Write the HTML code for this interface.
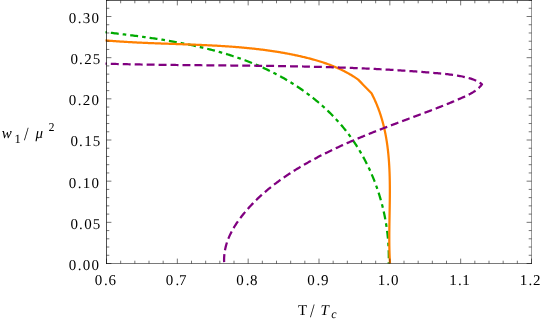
<!DOCTYPE html>
<html><head><meta charset="utf-8"><title>plot</title>
<style>
html,body{margin:0;padding:0;background:#fff;}
body{width:545px;height:321px;overflow:hidden;font-family:"Liberation Serif",serif;}
svg{display:block;will-change:transform;}
text{font-family:"Liberation Serif",serif;fill:#000;text-rendering:geometricPrecision;}
.tl text{font-size:15px;}
</style></head><body>
<svg width="545" height="321" viewBox="0 0 545 321">
<rect width="545" height="321" fill="#fff"/>
<g fill="none" stroke-width="2.25" stroke-linejoin="round">
<path d="M105.50 32.20L106.83 32.36L108.16 32.51L109.49 32.67L110.83 32.82L112.16 32.98L113.50 33.14L114.84 33.30L116.17 33.46L117.51 33.62L118.86 33.78L120.20 33.94L121.54 34.10L122.89 34.27L124.23 34.43L125.58 34.60L126.93 34.77L128.28 34.94L129.62 35.11L130.97 35.28L132.33 35.45L133.68 35.63L135.03 35.80L136.38 35.98L137.74 36.16L139.09 36.34L140.45 36.52L141.80 36.71L143.16 36.89L144.52 37.08L145.87 37.27L147.23 37.46L148.59 37.65L149.95 37.85L151.31 38.05L152.66 38.25L154.02 38.45L155.38 38.66L156.74 38.86L158.10 39.07L159.46 39.28L160.82 39.50L162.18 39.72L163.54 39.93L164.90 40.16L166.26 40.38L167.62 40.61L168.98 40.84L170.33 41.07L171.69 41.31L173.05 41.55L174.41 41.79L175.77 42.04L177.12 42.28L178.48 42.54L179.84 42.79L181.19 43.05L182.55 43.31L183.90 43.57L185.26 43.84L186.61 44.11L187.96 44.39L189.31 44.67L190.66 44.95L192.01 45.23L193.36 45.52L194.71 45.82L196.06 46.11L197.41 46.42L198.75 46.72L200.10 47.03L201.44 47.34L202.78 47.66L204.12 47.98L205.46 48.31L206.80 48.64L208.14 48.97L209.47 49.31L210.81 49.65L212.14 50.00L213.47 50.35L214.81 50.70L216.13 51.07L217.46 51.43L218.79 51.80L220.11 52.18L221.44 52.56L222.76 52.94L224.08 53.33L225.39 53.72L226.71 54.12L228.02 54.53L229.34 54.94L230.65 55.35L231.96 55.77L233.26 56.20L234.57 56.63L235.87 57.06L237.17 57.51L238.47 57.95L239.76 58.41L241.06 58.86L242.35 59.33L243.64 59.80L244.93 60.27L246.21 60.75L247.49 61.24L248.77 61.73L250.05 62.23L251.33 62.73L252.60 63.24L253.87 63.76L255.14 64.28L256.40 64.81L257.66 65.35L258.92 65.89L260.18 66.44L261.43 66.99L262.69 67.55L263.93 68.12L265.18 68.69L266.42 69.27L267.66 69.86L268.90 70.46L270.13 71.06L271.36 71.66L272.59 72.28L273.81 72.90L275.03 73.52L276.25 74.16L277.47 74.80L278.68 75.45L279.88 76.10L281.09 76.76L282.28 77.43L283.48 78.10L284.67 78.78L285.86 79.47L287.04 80.16L288.22 80.86L289.40 81.57L290.57 82.28L291.74 83.00L292.90 83.73L294.06 84.46L295.21 85.20L296.36 85.95L297.50 86.70L298.64 87.46L299.78 88.23L300.91 89.00L302.04 89.78L303.16 90.57L304.27 91.36L305.38 92.16L306.49 92.96L307.59 93.78L308.68 94.60L309.77 95.42L310.86 96.25L311.94 97.09L313.01 97.94L314.08 98.79L315.14 99.65L316.20 100.51L317.25 101.38L318.29 102.26L319.33 103.14L320.36 104.03L321.39 104.93L322.41 105.84L323.42 106.75L324.43 107.66L325.44 108.59L326.43 109.52L327.42 110.45L328.40 111.39L329.38 112.34L330.35 113.30L331.31 114.26L332.27 115.23L333.22 116.20L334.16 117.19L335.09 118.17L336.02 119.17L336.94 120.17L337.86 121.18L338.76 122.19L339.66 123.21L340.56 124.24L341.44 125.27L342.32 126.31L343.19 127.36L344.05 128.41L344.90 129.47L345.75 130.53L346.59 131.60L347.42 132.68L348.24 133.77L349.06 134.86L349.86 135.95L350.66 137.06L351.46 138.16L352.24 139.28L353.02 140.40L353.78 141.52L354.54 142.65L355.30 143.79L356.04 144.93L356.78 146.08L357.50 147.24L358.23 148.40L358.94 149.56L359.64 150.73L360.34 151.90L361.03 153.08L361.71 154.27L362.38 155.46L363.04 156.65L363.70 157.85L364.35 159.05L364.99 160.26L365.62 161.48L366.24 162.69L366.86 163.92L367.46 165.14L368.06 166.37L368.65 167.61L369.24 168.85L369.81 170.09L370.38 171.34L370.93 172.59L371.48 173.85L372.02 175.11L372.56 176.37L373.08 177.64L373.60 178.91L374.10 180.19L374.60 181.46L375.09 182.75L375.58 184.03L376.05 185.32L376.52 186.61L376.97 187.91L377.42 189.20L377.86 190.50L378.30 191.81L378.72 193.12L379.13 194.43L379.54 195.74L379.94 197.05L380.33 198.37L380.71 199.69L381.08 201.02L381.44 202.34L381.80 203.67L382.15 205.00L382.48 206.34L382.81 207.67L383.13 209.01L383.45 210.35L383.75 211.69L384.04 213.03L384.33 214.38L384.61 215.72L384.87 217.07L385.13 218.42L385.38 219.78L385.63 221.13L385.86 222.49L386.08 223.84L386.30 225.20L386.51 226.56L386.70 227.92L386.89 229.28L387.07 230.64L387.24 232.01L387.41 233.37L387.56 234.74L387.70 236.10L387.84 237.47L387.97 238.84L388.08 240.21L388.19 241.58L388.29 242.95L388.38 244.32L388.46 245.69L388.54 247.06L388.60 248.43L388.66 249.80L388.70 251.17L388.74 252.54L388.76 253.91L388.78 255.28L388.79 256.65L388.79 258.02L388.78 259.39L388.76 260.76L388.73 262.13L388.70 263.50" stroke="#00aa00" stroke-dasharray="7.95 4.0 3.6 4.0" stroke-dashoffset="14.2"/>
<path d="M105.50 40.40L106.35 40.47L107.20 40.55L108.05 40.62L108.90 40.69L109.75 40.76L110.60 40.83L111.45 40.90L112.31 40.96L113.16 41.03L114.01 41.09L114.86 41.16L115.72 41.22L116.57 41.28L117.43 41.34L118.28 41.40L119.14 41.46L119.99 41.52L120.85 41.58L121.70 41.63L122.56 41.69L123.41 41.74L124.27 41.79L125.13 41.85L125.99 41.90L126.84 41.95L127.70 42.00L128.56 42.05L129.42 42.10L130.28 42.15L131.14 42.19L131.99 42.24L132.85 42.29L133.71 42.33L134.57 42.38L135.43 42.42L136.30 42.46L137.16 42.51L138.02 42.55L138.88 42.59L139.74 42.63L140.60 42.67L141.46 42.71L142.33 42.75L143.19 42.79L144.05 42.83L144.91 42.86L145.78 42.90L146.64 42.94L147.50 42.98L148.37 43.01L149.23 43.05L150.10 43.08L150.96 43.12L151.83 43.15L152.69 43.18L153.55 43.22L154.42 43.25L155.29 43.28L156.15 43.32L157.02 43.35L157.88 43.38L158.75 43.41L159.61 43.45L160.48 43.48L161.35 43.51L162.21 43.54L163.08 43.57L163.95 43.60L164.81 43.63L165.68 43.66L166.55 43.69L167.41 43.72L168.28 43.75L169.15 43.78L170.02 43.81L170.88 43.84L171.75 43.87L172.62 43.90L173.49 43.93L174.36 43.96L175.22 43.99L176.09 44.02L176.96 44.05L177.83 44.08L178.70 44.11L179.57 44.14L180.44 44.17L181.30 44.20L182.17 44.23L183.04 44.26L183.91 44.29L184.78 44.33L185.65 44.36L186.52 44.39L187.39 44.42L188.25 44.45L189.12 44.48L189.99 44.52L190.86 44.55L191.73 44.58L192.60 44.62L193.47 44.65L194.34 44.68L195.21 44.72L196.08 44.75L196.95 44.79L197.81 44.82L198.68 44.86L199.55 44.90L200.42 44.93L201.29 44.97L202.16 45.01L203.03 45.05L203.90 45.09L204.77 45.13L205.64 45.17L206.50 45.21L207.37 45.25L208.24 45.29L209.11 45.33L209.98 45.37L210.85 45.42L211.72 45.46L212.58 45.51L213.45 45.55L214.32 45.60L215.19 45.65L216.06 45.69L216.92 45.74L217.79 45.79L218.66 45.84L219.53 45.89L220.39 45.94L221.26 46.00L222.13 46.05L223.00 46.10L223.86 46.16L224.73 46.21L225.60 46.27L226.46 46.33L227.33 46.38L228.20 46.44L229.06 46.50L229.93 46.56L230.79 46.63L231.66 46.69L232.53 46.75L233.39 46.82L234.26 46.88L235.12 46.95L235.99 47.02L236.85 47.09L237.72 47.16L238.58 47.23L239.44 47.30L240.31 47.38L241.17 47.45L242.04 47.53L242.90 47.60L243.76 47.68L244.63 47.76L245.49 47.84L246.35 47.92L247.21 48.01L248.07 48.09L248.94 48.18L249.80 48.26L250.66 48.35L251.52 48.44L252.38 48.53L253.24 48.63L254.10 48.72L254.96 48.81L255.82 48.91L256.68 49.01L257.54 49.11L258.40 49.21L259.26 49.31L260.12 49.41L260.98 49.52L261.83 49.63L262.69 49.73L263.55 49.84L264.41 49.95L265.26 50.07L266.12 50.18L266.97 50.30L267.83 50.42L268.69 50.53L269.54 50.65L270.40 50.78L271.25 50.90L272.10 51.03L272.96 51.15L273.81 51.28L274.66 51.41L275.52 51.55L276.37 51.68L277.22 51.82L278.07 51.95L278.93 52.09L279.78 52.23L280.63 52.38L281.48 52.52L282.33 52.67L283.18 52.82L284.03 52.97L284.87 53.12L285.72 53.28L286.57 53.43L287.42 53.59L288.27 53.75L289.11 53.91L289.96 54.08L290.80 54.24L291.65 54.41L292.49 54.58L293.34 54.75L294.18 54.93L295.03 55.10L295.87 55.28L296.71 55.46L297.56 55.64L298.40 55.83L299.24 56.02L300.08 56.21L300.92 56.40L301.76 56.59L302.60 56.79L303.44 56.98L304.28 57.18L305.12 57.39L305.95 57.59L306.79 57.80L307.63 58.01L308.46 58.22L309.30 58.43L310.13 58.65L310.97 58.87L311.80 59.09L312.63 59.32L313.46 59.55L314.29 59.78L315.12 60.02L315.95 60.25L316.78 60.50L317.60 60.74L318.43 60.99L319.25 61.24L320.07 61.50L320.90 61.75L321.72 62.02L322.54 62.28L323.35 62.55L324.17 62.82L324.98 63.10L325.80 63.38L326.61 63.67L327.42 63.96L328.23 64.25L329.04 64.55L329.84 64.85L330.65 65.15L331.45 65.47L332.25 65.78L333.05 66.10L333.85 66.42L334.64 66.75L335.44 67.09L336.23 67.42L337.02 67.77L337.81 68.11L338.59 68.47L339.38 68.82L340.16 69.19L340.94 69.56L341.71 69.93L342.49 70.31L343.26 70.69L344.03 71.08L344.80 71.48L345.57 71.88L346.33 72.28L347.09 72.69L347.85 73.11L348.61 73.54L349.36 73.97L350.11 74.40L350.86 74.84L351.61 75.29L352.35 75.74L353.09 76.20L353.83 76.67L354.57 77.14L355.30 77.62L356.03 78.10L356.76 78.60L357.48 79.09L358.20 79.60L359.68 81.12L361.16 82.64L362.63 84.17L364.11 85.69L365.59 87.21L367.07 88.73L368.54 90.26L370.02 91.78L371.50 93.30L371.77 93.82L372.04 94.34L372.31 94.87L372.58 95.39L372.84 95.91L373.10 96.44L373.36 96.97L373.61 97.49L373.87 98.02L374.11 98.55L374.36 99.08L374.61 99.61L374.85 100.13L375.09 100.67L375.33 101.20L375.56 101.73L375.79 102.26L376.02 102.79L376.25 103.33L376.47 103.86L376.70 104.40L376.92 104.93L377.13 105.47L377.35 106.00L377.56 106.54L377.77 107.08L377.98 107.62L378.19 108.16L378.39 108.70L378.59 109.24L378.79 109.78L378.99 110.32L379.18 110.86L379.37 111.40L379.56 111.95L379.75 112.49L379.94 113.03L380.12 113.58L380.30 114.12L380.48 114.67L380.66 115.22L380.83 115.76L381.00 116.31L381.17 116.86L381.34 117.41L381.51 117.96L381.67 118.51L381.83 119.06L381.99 119.61L382.15 120.16L382.31 120.71L382.46 121.26L382.61 121.82L382.76 122.37L382.91 122.92L383.06 123.48L383.20 124.03L383.34 124.59L383.48 125.14L383.62 125.70L383.76 126.25L383.89 126.81L384.02 127.37L384.15 127.93L384.28 128.48L384.41 129.04L384.53 129.60L384.65 130.16L384.78 130.72L384.89 131.28L385.01 131.84L385.13 132.41L385.24 132.97L385.35 133.53L385.46 134.09L385.57 134.66L385.68 135.22L385.79 135.78L385.89 136.35L385.99 136.91L386.09 137.48L386.19 138.04L386.29 138.61L386.38 139.17L386.48 139.74L386.57 140.31L386.66 140.88L386.75 141.44L386.83 142.01L386.92 142.58L387.00 143.15L387.09 143.72L387.17 144.29L387.25 144.86L387.33 145.43L387.40 146.00L387.48 146.57L387.55 147.14L387.62 147.71L387.69 148.28L387.76 148.86L387.83 149.43L387.90 150.00L387.96 150.57L388.03 151.15L388.09 151.72L388.15 152.29L388.21 152.87L388.27 153.44L388.33 154.02L388.38 154.59L388.44 155.17L388.49 155.74L388.54 156.32L388.59 156.90L388.64 157.47L388.69 158.05L388.74 158.63L388.79 159.20L388.83 159.78L388.88 160.36L388.92 160.94L388.96 161.52L389.00 162.09L389.04 162.67L389.08 163.25L389.11 163.83L389.15 164.41L389.18 164.99L389.22 165.57L389.25 166.15L389.28 166.73L389.31 167.31L389.34 167.89L389.37 168.47L389.40 169.05L389.43 169.63L389.45 170.21L389.48 170.80L389.50 171.38L389.52 171.96L389.55 172.54L389.57 173.12L389.59 173.71L389.61 174.29L389.63 174.87L389.64 175.45L389.66 176.04L389.68 176.62L389.69 177.20L389.71 177.79L389.72 178.37L389.73 178.95L389.75 179.54L389.76 180.12L389.77 180.71L389.78 181.29L389.79 181.87L389.80 182.46L389.80 183.04L389.81 183.63L389.82 184.21L389.82 184.80L389.83 185.38L389.83 185.96L389.84 186.55L389.84 187.13L389.84 187.72L389.85 188.30L389.85 188.89L389.85 189.47L389.85 190.06L389.85 190.65L389.85 191.23L389.85 191.82L389.85 192.40L389.85 192.99L389.84 193.57L389.84 194.16L389.84 194.74L389.83 195.33L389.83 195.91L389.83 196.50L389.82 197.09L389.82 197.67L389.81 198.26L389.81 198.84L389.80 199.43L389.79 200.01L389.79 200.60L389.78 201.18L389.77 201.77L389.76 202.36L389.76 202.94L389.75 203.53L389.74 204.11L389.73 204.70L389.72 205.28L389.71 205.87L389.71 206.45L389.70 207.04L389.69 207.62L389.68 208.21L389.67 208.79L389.66 209.38L389.65 209.96L389.64 210.55L389.63 211.13L389.62 211.72L389.61 212.30L389.60 212.88L389.59 213.47L389.58 214.05L389.57 214.64L389.56 215.22L389.55 215.80L389.54 216.39L389.53 216.97L389.52 217.56L389.51 218.14L389.50 218.72L389.49 219.30L389.48 219.89L389.47 220.47L389.46 221.05L389.45 221.64L389.44 222.22L389.43 222.80L389.42 223.38L389.41 223.96L389.40 224.55L389.40 225.13L389.39 225.71L389.38 226.29L389.37 226.87L389.37 227.45L389.36 228.03L389.35 228.61L389.35 229.19L389.34 229.77L389.33 230.35L389.33 230.93L389.32 231.51L389.32 232.09L389.31 232.67L389.31 233.25L389.31 233.83L389.30 234.41L389.30 234.98L389.30 235.56L389.30 236.14L389.30 236.72L389.30 237.29L389.30 237.87L389.30 238.45L389.30 239.02L389.30 239.60L389.30 240.17L389.30 240.75L389.31 241.32L389.31 241.90L389.31 242.47L389.32 243.05L389.32 243.62L389.33 244.20L389.34 244.77L389.34 245.34L389.35 245.92L389.36 246.49L389.37 247.06L389.38 247.63L389.39 248.20L389.40 248.77L389.41 249.35L389.43 249.92L389.44 250.49L389.46 251.06L389.47 251.63L389.49 252.20L389.50 252.76L389.52 253.33L389.54 253.90L389.56 254.47L389.58 255.04L389.60 255.60L389.62 256.17L389.65 256.74L389.67 257.30L389.70 257.87L389.72 258.43L389.75 259.00L389.78 259.56L389.81 260.12L389.84 260.69L389.87 261.25L389.90 261.81L389.93 262.38L389.97 262.94L390.00 263.50" stroke="#ff8000"/>
<path d="M105.50 63.70L106.77 63.74L108.04 63.77L109.30 63.80L110.57 63.84L111.84 63.87L113.11 63.90L114.38 63.94L115.65 63.97L116.91 64.00L118.18 64.03L119.45 64.06L120.72 64.09L121.99 64.12L123.25 64.15L124.52 64.17L125.79 64.20L127.06 64.23L128.33 64.25L129.59 64.28L130.86 64.31L132.13 64.33L133.40 64.36L134.67 64.38L135.93 64.41L137.20 64.43L138.47 64.45L139.74 64.48L141.00 64.50L142.27 64.52L143.54 64.54L144.81 64.56L146.07 64.58L147.34 64.60L148.61 64.62L149.88 64.64L151.15 64.66L152.41 64.68L153.68 64.70L154.95 64.72L156.22 64.74L157.48 64.76L158.75 64.77L160.02 64.79L161.29 64.81L162.55 64.83L163.82 64.84L165.09 64.86L166.35 64.88L167.62 64.89L168.89 64.91L170.16 64.92L171.42 64.94L172.69 64.95L173.96 64.97L175.23 64.98L176.49 65.00L177.76 65.01L179.03 65.02L180.29 65.04L181.56 65.05L182.83 65.06L184.10 65.08L185.36 65.09L186.63 65.10L187.90 65.12L189.16 65.13L190.43 65.14L191.70 65.15L192.97 65.16L194.23 65.18L195.50 65.19L196.77 65.20L198.03 65.21L199.30 65.22L200.57 65.24L201.83 65.25L203.10 65.26L204.37 65.27L205.64 65.28L206.90 65.29L208.17 65.30L209.44 65.31L210.70 65.33L211.97 65.34L213.24 65.35L214.50 65.36L215.77 65.37L217.04 65.38L218.30 65.39L219.57 65.40L220.84 65.41L222.10 65.43L223.37 65.44L224.64 65.45L225.90 65.46L227.17 65.47L228.44 65.48L229.70 65.49L230.97 65.51L232.24 65.52L233.50 65.53L234.77 65.54L236.04 65.55L237.30 65.56L238.57 65.58L239.84 65.59L241.10 65.60L242.37 65.61L243.64 65.63L244.90 65.64L246.17 65.65L247.44 65.67L248.70 65.68L249.97 65.69L251.23 65.71L252.50 65.72L253.77 65.73L255.03 65.75L256.30 65.76L257.57 65.78L258.83 65.79L260.10 65.81L261.37 65.82L262.63 65.84L263.90 65.85L265.16 65.87L266.43 65.89L267.70 65.90L268.96 65.92L270.23 65.94L271.50 65.96L272.76 65.97L274.03 65.99L275.30 66.01L276.56 66.03L277.83 66.05L279.09 66.07L280.36 66.09L281.63 66.11L282.89 66.13L284.16 66.15L285.43 66.17L286.69 66.19L287.96 66.21L289.22 66.23L290.49 66.26L291.76 66.28L293.02 66.30L294.29 66.33L295.55 66.35L296.82 66.38L298.09 66.40L299.35 66.43L300.62 66.45L301.88 66.48L303.15 66.50L304.42 66.53L305.68 66.56L306.95 66.59L308.22 66.62L309.48 66.65L310.75 66.68L312.01 66.71L313.28 66.74L314.55 66.77L315.81 66.80L317.08 66.83L318.34 66.86L319.61 66.90L320.88 66.93L322.14 66.96L323.41 67.00L324.67 67.03L325.94 67.07L327.21 67.11L328.47 67.14L329.74 67.18L331.00 67.22L332.27 67.26L333.54 67.30L334.80 67.34L336.07 67.38L337.33 67.42L338.60 67.46L339.87 67.51L341.13 67.55L342.40 67.59L343.66 67.64L344.93 67.68L346.20 67.73L347.46 67.78L348.73 67.82L349.99 67.87L351.26 67.92L352.53 67.97L353.79 68.02L355.06 68.07L356.32 68.12L357.59 68.17L358.85 68.23L360.12 68.28L361.39 68.34L362.65 68.39L363.92 68.45L365.18 68.50L366.45 68.56L367.72 68.62L368.98 68.68L370.25 68.74L371.51 68.80L372.78 68.86L374.05 68.92L375.31 68.99L376.58 69.05L377.84 69.12L379.11 69.18L380.38 69.25L381.64 69.32L382.91 69.38L384.17 69.45L385.44 69.52L386.70 69.59L387.97 69.67L389.24 69.74L390.50 69.81L391.77 69.89L393.03 69.96L394.30 70.04L395.57 70.12L396.83 70.19L398.10 70.27L399.36 70.35L400.63 70.43L401.90 70.52L403.16 70.60L404.43 70.68L405.69 70.77L406.96 70.85L408.23 70.94L409.49 71.03L410.76 71.12L412.02 71.21L413.29 71.30L414.55 71.39L415.82 71.48L417.09 71.58L418.35 71.67L419.62 71.77L420.88 71.87L422.15 71.97L423.42 72.07L424.68 72.17L425.95 72.27L427.21 72.37L428.48 72.47L429.75 72.58L431.01 72.68L432.28 72.79L433.54 72.90L434.81 73.01L436.08 73.12L437.34 73.23L438.61 73.34L439.87 73.46L441.14 73.58L442.40 73.70L443.67 73.82L444.93 73.95L446.19 74.08L447.46 74.22L448.72 74.36L449.97 74.51L451.23 74.67L452.49 74.83L453.74 75.01L454.99 75.19L456.24 75.38L457.48 75.59L458.73 75.80L459.97 76.03L461.20 76.26L462.44 76.51L463.67 76.78L464.89 77.06L466.12 77.35L467.34 77.66L468.55 77.98L469.76 78.32L470.96 78.68L472.16 79.07L473.33 79.49L474.50 79.94L475.64 80.42L476.77 80.95L477.87 81.52L478.95 82.13L480.00 82.80L481.02 83.52L482.00 84.30L481.33 85.18L480.63 86.01L479.90 86.81L479.14 87.58L478.36 88.31L477.55 89.02L476.72 89.69L475.87 90.34L474.99 90.97L474.10 91.57L473.19 92.15L472.27 92.70L471.33 93.24L470.38 93.77L469.42 94.27L468.44 94.77L467.46 95.25L466.47 95.72L465.48 96.19L464.48 96.65L463.48 97.10L462.47 97.55L461.47 98.00L460.46 98.45L459.46 98.89L458.45 99.33L457.44 99.76L456.43 100.20L455.42 100.63L454.40 101.06L453.39 101.49L452.37 101.91L451.36 102.34L450.34 102.76L449.32 103.18L448.30 103.59L447.28 104.01L446.26 104.42L445.24 104.83L444.22 105.24L443.19 105.65L442.17 106.06L441.15 106.46L440.12 106.86L439.09 107.27L438.07 107.67L437.04 108.06L436.01 108.46L434.98 108.86L433.95 109.25L432.92 109.65L431.89 110.04L430.86 110.43L429.83 110.83L428.80 111.22L427.77 111.61L426.74 112.00L425.70 112.38L424.67 112.77L423.64 113.16L422.60 113.55L421.57 113.93L420.54 114.32L419.50 114.71L418.47 115.09L417.43 115.48L416.40 115.86L415.37 116.25L414.33 116.63L413.30 117.02L412.26 117.41L411.23 117.79L410.19 118.18L409.16 118.56L408.12 118.95L407.09 119.33L406.05 119.72L405.02 120.10L403.99 120.49L402.95 120.88L401.92 121.26L400.88 121.65L399.85 122.04L398.81 122.43L397.78 122.81L396.75 123.20L395.71 123.59L394.68 123.98L393.65 124.37L392.62 124.76L391.58 125.15L390.55 125.54L389.52 125.93L388.49 126.33L387.46 126.72L386.43 127.11L385.39 127.51L384.36 127.91L383.33 128.30L382.31 128.70L381.28 129.10L380.25 129.50L379.22 129.90L378.19 130.30L377.16 130.70L376.14 131.10L375.11 131.50L374.08 131.91L373.06 132.31L372.03 132.72L371.01 133.13L369.99 133.54L368.96 133.95L367.94 134.36L366.92 134.77L365.90 135.19L364.88 135.60L363.86 136.02L362.84 136.44L361.82 136.86L360.80 137.28L359.78 137.70L358.77 138.12L357.75 138.55L356.73 138.97L355.72 139.40L354.71 139.83L353.69 140.26L352.68 140.70L351.67 141.13L350.66 141.57L349.65 142.01L348.64 142.45L347.63 142.89L346.63 143.33L345.62 143.78L344.62 144.23L343.61 144.68L342.61 145.13L341.61 145.58L340.61 146.04L339.61 146.49L338.61 146.95L337.61 147.41L336.61 147.88L335.61 148.34L334.62 148.81L333.63 149.28L332.63 149.75L331.64 150.23L330.65 150.70L329.66 151.18L328.67 151.66L327.69 152.15L326.70 152.64L325.72 153.12L324.73 153.62L323.75 154.11L322.77 154.61L321.79 155.10L320.81 155.61L319.83 156.11L318.86 156.62L317.88 157.12L316.91 157.64L315.94 158.15L314.97 158.67L314.00 159.19L313.03 159.71L312.06 160.24L311.10 160.77L310.14 161.30L309.17 161.83L308.21 162.37L307.25 162.91L306.30 163.45L305.34 164.00L304.39 164.55L303.43 165.10L302.48 165.66L301.53 166.22L300.58 166.78L299.64 167.35L298.69 167.91L297.75 168.49L296.81 169.06L295.87 169.64L294.93 170.22L294.00 170.81L293.06 171.40L292.13 171.99L291.21 172.59L290.28 173.19L289.36 173.79L288.43 174.40L287.52 175.01L286.60 175.62L285.69 176.24L284.78 176.86L283.87 177.48L282.96 178.11L282.06 178.75L281.16 179.38L280.26 180.03L279.37 180.67L278.48 181.32L277.59 181.97L276.71 182.63L275.83 183.29L274.95 183.96L274.07 184.62L273.20 185.30L272.33 185.98L271.47 186.66L270.61 187.34L269.75 188.04L268.90 188.73L268.05 189.43L267.21 190.13L266.36 190.84L265.53 191.55L264.69 192.27L263.86 192.99L263.04 193.72L262.22 194.45L261.40 195.19L260.59 195.93L259.78 196.67L258.98 197.42L258.18 198.18L257.38 198.94L256.59 199.70L255.81 200.47L255.02 201.25L254.25 202.03L253.48 202.81L252.71 203.60L251.95 204.39L251.19 205.19L250.44 206.00L249.70 206.81L248.95 207.62L248.22 208.44L247.49 209.27L246.76 210.10L246.04 210.94L245.33 211.78L244.62 212.62L243.92 213.48L243.22 214.33L242.53 215.20L241.84 216.07L241.17 216.94L240.50 217.82L239.83 218.71L239.18 219.60L238.53 220.49L237.89 221.40L237.26 222.30L236.64 223.22L236.03 224.14L235.44 225.06L234.85 225.99L234.27 226.93L233.71 227.87L233.15 228.82L232.61 229.77L232.08 230.73L231.57 231.70L231.07 232.67L230.58 233.65L230.11 234.63L229.65 235.62L229.21 236.62L228.78 237.62L228.37 238.62L227.97 239.64L227.59 240.66L227.23 241.68L226.89 242.71L226.56 243.75L226.25 244.80L225.96 245.85L225.69 246.90L225.44 247.96L225.21 249.03L225.00 250.11L224.81 251.19L224.64 252.28L224.50 253.37L224.37 254.47L224.27 255.58L224.19 256.69L224.13 257.81L224.09 258.93L224.08 260.07L224.10 261.20L224.14 262.35L224.20 263.50" stroke="#800080" stroke-dasharray="7.95 4.0" stroke-dashoffset="6.65"/>
</g>
<g stroke="#000" stroke-width="0.55"><line x1="106.50" y1="263.50" x2="106.50" y2="258.60"/><line x1="120.67" y1="263.50" x2="120.67" y2="260.70"/><line x1="120.67" y1="0.50" x2="120.67" y2="3.30"/><line x1="134.83" y1="263.50" x2="134.83" y2="260.70"/><line x1="134.83" y1="0.50" x2="134.83" y2="3.30"/><line x1="149.00" y1="263.50" x2="149.00" y2="260.70"/><line x1="149.00" y1="0.50" x2="149.00" y2="3.30"/><line x1="163.17" y1="263.50" x2="163.17" y2="260.70"/><line x1="163.17" y1="0.50" x2="163.17" y2="3.30"/><line x1="177.33" y1="263.50" x2="177.33" y2="258.60"/><line x1="177.33" y1="0.50" x2="177.33" y2="5.40"/><line x1="191.50" y1="263.50" x2="191.50" y2="260.70"/><line x1="191.50" y1="0.50" x2="191.50" y2="3.30"/><line x1="205.67" y1="263.50" x2="205.67" y2="260.70"/><line x1="205.67" y1="0.50" x2="205.67" y2="3.30"/><line x1="219.83" y1="263.50" x2="219.83" y2="260.70"/><line x1="219.83" y1="0.50" x2="219.83" y2="3.30"/><line x1="234.00" y1="263.50" x2="234.00" y2="260.70"/><line x1="234.00" y1="0.50" x2="234.00" y2="3.30"/><line x1="248.17" y1="263.50" x2="248.17" y2="258.60"/><line x1="248.17" y1="0.50" x2="248.17" y2="5.40"/><line x1="262.33" y1="263.50" x2="262.33" y2="260.70"/><line x1="262.33" y1="0.50" x2="262.33" y2="3.30"/><line x1="276.50" y1="263.50" x2="276.50" y2="260.70"/><line x1="276.50" y1="0.50" x2="276.50" y2="3.30"/><line x1="290.67" y1="263.50" x2="290.67" y2="260.70"/><line x1="290.67" y1="0.50" x2="290.67" y2="3.30"/><line x1="304.83" y1="263.50" x2="304.83" y2="260.70"/><line x1="304.83" y1="0.50" x2="304.83" y2="3.30"/><line x1="319.00" y1="263.50" x2="319.00" y2="258.60"/><line x1="319.00" y1="0.50" x2="319.00" y2="5.40"/><line x1="333.17" y1="263.50" x2="333.17" y2="260.70"/><line x1="333.17" y1="0.50" x2="333.17" y2="3.30"/><line x1="347.33" y1="263.50" x2="347.33" y2="260.70"/><line x1="347.33" y1="0.50" x2="347.33" y2="3.30"/><line x1="361.50" y1="263.50" x2="361.50" y2="260.70"/><line x1="361.50" y1="0.50" x2="361.50" y2="3.30"/><line x1="375.67" y1="263.50" x2="375.67" y2="260.70"/><line x1="375.67" y1="0.50" x2="375.67" y2="3.30"/><line x1="389.83" y1="263.50" x2="389.83" y2="258.60"/><line x1="389.83" y1="0.50" x2="389.83" y2="5.40"/><line x1="404.00" y1="263.50" x2="404.00" y2="260.70"/><line x1="404.00" y1="0.50" x2="404.00" y2="3.30"/><line x1="418.17" y1="263.50" x2="418.17" y2="260.70"/><line x1="418.17" y1="0.50" x2="418.17" y2="3.30"/><line x1="432.33" y1="263.50" x2="432.33" y2="260.70"/><line x1="432.33" y1="0.50" x2="432.33" y2="3.30"/><line x1="446.50" y1="263.50" x2="446.50" y2="260.70"/><line x1="446.50" y1="0.50" x2="446.50" y2="3.30"/><line x1="460.67" y1="263.50" x2="460.67" y2="258.60"/><line x1="460.67" y1="0.50" x2="460.67" y2="5.40"/><line x1="474.83" y1="263.50" x2="474.83" y2="260.70"/><line x1="474.83" y1="0.50" x2="474.83" y2="3.30"/><line x1="489.00" y1="263.50" x2="489.00" y2="260.70"/><line x1="489.00" y1="0.50" x2="489.00" y2="3.30"/><line x1="503.17" y1="263.50" x2="503.17" y2="260.70"/><line x1="503.17" y1="0.50" x2="503.17" y2="3.30"/><line x1="517.33" y1="263.50" x2="517.33" y2="260.70"/><line x1="517.33" y1="0.50" x2="517.33" y2="3.30"/><line x1="531.50" y1="263.50" x2="531.50" y2="258.60"/><line x1="106.50" y1="263.50" x2="111.40" y2="263.50"/><line x1="531.50" y1="263.50" x2="526.60" y2="263.50"/><line x1="106.50" y1="255.27" x2="109.30" y2="255.27"/><line x1="531.50" y1="255.27" x2="528.70" y2="255.27"/><line x1="106.50" y1="247.03" x2="109.30" y2="247.03"/><line x1="531.50" y1="247.03" x2="528.70" y2="247.03"/><line x1="106.50" y1="238.80" x2="109.30" y2="238.80"/><line x1="531.50" y1="238.80" x2="528.70" y2="238.80"/><line x1="106.50" y1="230.57" x2="109.30" y2="230.57"/><line x1="531.50" y1="230.57" x2="528.70" y2="230.57"/><line x1="106.50" y1="222.34" x2="111.40" y2="222.34"/><line x1="531.50" y1="222.34" x2="526.60" y2="222.34"/><line x1="106.50" y1="214.10" x2="109.30" y2="214.10"/><line x1="531.50" y1="214.10" x2="528.70" y2="214.10"/><line x1="106.50" y1="205.87" x2="109.30" y2="205.87"/><line x1="531.50" y1="205.87" x2="528.70" y2="205.87"/><line x1="106.50" y1="197.64" x2="109.30" y2="197.64"/><line x1="531.50" y1="197.64" x2="528.70" y2="197.64"/><line x1="106.50" y1="189.40" x2="109.30" y2="189.40"/><line x1="531.50" y1="189.40" x2="528.70" y2="189.40"/><line x1="106.50" y1="181.17" x2="111.40" y2="181.17"/><line x1="531.50" y1="181.17" x2="526.60" y2="181.17"/><line x1="106.50" y1="172.94" x2="109.30" y2="172.94"/><line x1="531.50" y1="172.94" x2="528.70" y2="172.94"/><line x1="106.50" y1="164.70" x2="109.30" y2="164.70"/><line x1="531.50" y1="164.70" x2="528.70" y2="164.70"/><line x1="106.50" y1="156.47" x2="109.30" y2="156.47"/><line x1="531.50" y1="156.47" x2="528.70" y2="156.47"/><line x1="106.50" y1="148.24" x2="109.30" y2="148.24"/><line x1="531.50" y1="148.24" x2="528.70" y2="148.24"/><line x1="106.50" y1="140.00" x2="111.40" y2="140.00"/><line x1="531.50" y1="140.00" x2="526.60" y2="140.00"/><line x1="106.50" y1="131.77" x2="109.30" y2="131.77"/><line x1="531.50" y1="131.77" x2="528.70" y2="131.77"/><line x1="106.50" y1="123.54" x2="109.30" y2="123.54"/><line x1="531.50" y1="123.54" x2="528.70" y2="123.54"/><line x1="106.50" y1="115.31" x2="109.30" y2="115.31"/><line x1="531.50" y1="115.31" x2="528.70" y2="115.31"/><line x1="106.50" y1="107.07" x2="109.30" y2="107.07"/><line x1="531.50" y1="107.07" x2="528.70" y2="107.07"/><line x1="106.50" y1="98.84" x2="111.40" y2="98.84"/><line x1="531.50" y1="98.84" x2="526.60" y2="98.84"/><line x1="106.50" y1="90.61" x2="109.30" y2="90.61"/><line x1="531.50" y1="90.61" x2="528.70" y2="90.61"/><line x1="106.50" y1="82.37" x2="109.30" y2="82.37"/><line x1="531.50" y1="82.37" x2="528.70" y2="82.37"/><line x1="106.50" y1="74.14" x2="109.30" y2="74.14"/><line x1="531.50" y1="74.14" x2="528.70" y2="74.14"/><line x1="106.50" y1="65.91" x2="109.30" y2="65.91"/><line x1="531.50" y1="65.91" x2="528.70" y2="65.91"/><line x1="106.50" y1="57.68" x2="111.40" y2="57.68"/><line x1="531.50" y1="57.68" x2="526.60" y2="57.68"/><line x1="106.50" y1="49.44" x2="109.30" y2="49.44"/><line x1="531.50" y1="49.44" x2="528.70" y2="49.44"/><line x1="106.50" y1="41.21" x2="109.30" y2="41.21"/><line x1="531.50" y1="41.21" x2="528.70" y2="41.21"/><line x1="106.50" y1="32.98" x2="109.30" y2="32.98"/><line x1="531.50" y1="32.98" x2="528.70" y2="32.98"/><line x1="106.50" y1="24.74" x2="109.30" y2="24.74"/><line x1="531.50" y1="24.74" x2="528.70" y2="24.74"/><line x1="106.50" y1="16.51" x2="111.40" y2="16.51"/><line x1="531.50" y1="16.51" x2="526.60" y2="16.51"/><line x1="106.50" y1="8.28" x2="109.30" y2="8.28"/><line x1="531.50" y1="8.28" x2="528.70" y2="8.28"/><line x1="106.50" y1="0.04" x2="109.30" y2="0.04"/><line x1="531.50" y1="0.04" x2="528.70" y2="0.04"/></g>
<g fill="none" stroke-width="1">
<line x1="531.5" y1="0" x2="531.5" y2="264.0" stroke="#000" stroke-opacity="0.40"/>
<line x1="106.0" y1="263.5" x2="532.0" y2="263.5" stroke="#000" stroke-opacity="0.52"/>
<line x1="106.0" y1="0.5" x2="532.0" y2="0.5" stroke="#000" stroke-opacity="0.64"/>
<line x1="106.5" y1="0" x2="106.5" y2="264.0" stroke="#000" stroke-opacity="0.68"/>
</g>
<g class="tl"><text x="68.85 77.65 82.70 91.50" y="269.90">0.00</text><text x="70.55 78.92 84.15 92.76" y="228.74">0.05</text><text x="68.85 77.65 82.70 91.50" y="187.57">0.10</text><text x="70.55 78.92 84.15 92.76" y="146.41">0.15</text><text x="68.85 77.65 82.70 91.50" y="105.24">0.20</text><text x="70.55 78.92 84.15 92.76" y="64.08">0.25</text><text x="68.85 77.65 82.70 91.50" y="22.91">0.30</text><text x="94.7 104.1 108.4" y="284.55">0.6</text><text x="165.8 175.5 179.05" y="284.55">0.7</text><text x="236.35 245.65 249.95" y="284.55">0.8</text><text x="307.2 316.5 321.0" y="284.55">0.9</text><text x="377.8 386.35 391.05" y="284.55">1.0</text><text x="449.15 457.95 462.3" y="284.55">1.1</text><text x="519.7 528.55 532.9" y="284.55">1.2</text></g>
<g font-size="15">
<text x="1.8" y="137.8" font-style="italic">w</text>
<text x="14.5" y="143.3" font-size="12.6">1</text>
<text transform="translate(23.9,139.7) scale(1,1.13)" font-size="16.5">/</text>
<text x="35.6" y="137.8" font-style="italic">μ</text>
<text x="48.4" y="131" font-size="12">2</text>
<text x="298" y="314.8">T</text>
<text transform="translate(310.0,316.6) scale(1,1.16)" font-size="16.5">/</text>
<text x="320.4" y="314.8" font-style="italic">T</text>
<text x="331.2" y="317.8" font-size="12" font-style="italic">c</text>
</g>
</svg>
</body></html>
